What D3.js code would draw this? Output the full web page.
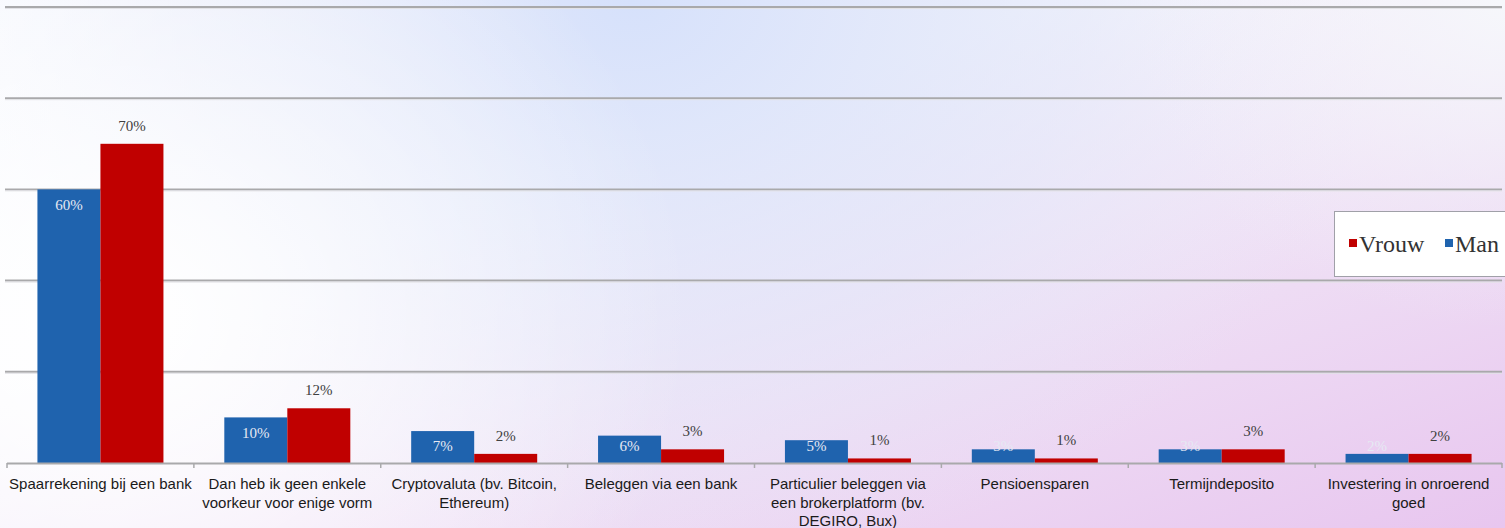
<!DOCTYPE html>
<html>
<head>
<meta charset="utf-8">
<script src="https://cdn.jsdelivr.net/npm/d3@7"></script>
<style>
  html, body { margin: 0; padding: 0; overflow: hidden; }
  svg { display: block; }
</style>
</head>
<body>
<script>
// ---- data ----
const categories = [
  "Spaarrekening bij een bank",
  "Dan heb ik geen enkele\nvoorkeur voor enige vorm",
  "Cryptovaluta (bv. Bitcoin,\nEthereum)",
  "Beleggen via een bank",
  "Particulier beleggen via\neen brokerplatform (bv.\nDEGIRO, Bux)",
  "Pensioensparen",
  "Termijndeposito",
  "Investering in onroerend\ngoed"
];
const seriesNames = ["Man", "Vrouw"];
const manValues   = [60, 10, 7, 6, 5, 3, 3, 2];
const vrouwValues = [70, 12, 2, 3, 1, 1, 3, 2];
const gridTicks = [20, 40, 60, 80, 100];
const legendItems = ["Vrouw", "Man"];

const colors = { Man: "#1f63ae", Vrouw: "#c00000" };

const W = 1505, H = 528;
const svg = d3.select("body").append("svg").attr("width", W).attr("height", H);
const defs = svg.append("defs");

// background gradients
const lg = defs.append("linearGradient").attr("id", "bgLin")
  .attr("x1", "0").attr("y1", "0").attr("x2", "1").attr("y2", "1");
lg.append("stop").attr("offset", "0").attr("stop-color", "#fbfdff");
lg.append("stop").attr("offset", "0.35").attr("stop-color", "#f9fbfe");
lg.append("stop").attr("offset", "0.7").attr("stop-color", "#eedcf4");
lg.append("stop").attr("offset", "1").attr("stop-color", "#e8c6ef");

const rb = defs.append("radialGradient").attr("id", "bgBlue")
  .attr("cx", "0.42").attr("cy", "0").attr("r", "0.5")
  .attr("gradientTransform", "translate(0.42,0) scale(1,2.2) translate(-0.42,0)");
rb.append("stop").attr("offset", "0").attr("stop-color", "#d6e1fb").attr("stop-opacity", 1);
rb.append("stop").attr("offset", "0.6").attr("stop-color", "#dfe3f8").attr("stop-opacity", 0.55);
rb.append("stop").attr("offset", "1").attr("stop-color", "#e6e6f8").attr("stop-opacity", 0);

const rw = defs.append("radialGradient").attr("id", "bgWhite")
  .attr("cx", "0.08").attr("cy", "0.6").attr("r", "0.38")
  .attr("gradientTransform", "translate(0.08,0.6) scale(1,2.5) translate(-0.08,-0.6)");
rw.append("stop").attr("offset", "0").attr("stop-color", "#ffffff").attr("stop-opacity", 1);
rw.append("stop").attr("offset", "1").attr("stop-color", "#ffffff").attr("stop-opacity", 0);

const rtr = defs.append("radialGradient").attr("id", "bgTR")
  .attr("cx", "1").attr("cy", "0").attr("r", "0.25")
  .attr("gradientTransform", "translate(1,0) scale(1,2.5) translate(-1,0)");
rtr.append("stop").attr("offset", "0").attr("stop-color", "#f6f7fb").attr("stop-opacity", 1);
rtr.append("stop").attr("offset", "1").attr("stop-color", "#f0eef8").attr("stop-opacity", 0);

svg.append("rect").attr("width", W).attr("height", H).attr("fill", "url(#bgLin)");
svg.append("rect").attr("width", W).attr("height", H).attr("fill", "url(#bgBlue)");
svg.append("rect").attr("width", W).attr("height", H).attr("fill", "url(#bgWhite)");
svg.append("rect").attr("width", W).attr("height", H).attr("fill", "url(#bgTR)");

// scales
const plotLeft = 7, plotRight = 1502, baseY = 463, topY = 7;
const x0 = d3.scaleBand().domain(categories).range([plotLeft, plotRight]).padding(0);
const x1 = d3.scaleBand().domain(seriesNames).range([0, x0.bandwidth()])
  .paddingInner(0).paddingOuter(0.483);
const y = d3.scaleLinear().domain([0, 100]).range([baseY, topY]);

// gridlines
const grid = svg.append("g");
grid.selectAll("line.g1").data(gridTicks).join("line")
  .attr("x1", plotLeft - 2).attr("x2", plotRight)
  .attr("y1", d => y(d)).attr("y2", d => y(d))
  .attr("stroke", "#a9a9ab").attr("stroke-width", 2);
grid.selectAll("line.g2").data(gridTicks).join("line")
  .attr("x1", plotLeft - 2).attr("x2", plotRight)
  .attr("y1", d => y(d) + 1.5).attr("y2", d => y(d) + 1.5)
  .attr("stroke", "#e2e2e6").attr("stroke-width", 1);

// bars
const data = categories.map((c, i) => ({ cat: c, Man: manValues[i], Vrouw: vrouwValues[i] }));
const groups = svg.append("g").selectAll("g").data(data).join("g")
  .attr("transform", d => `translate(${x0(d.cat)},0)`);

groups.selectAll("rect").data(d => seriesNames.map(s => ({ s, v: d[s] }))).join("rect")
  .attr("x", d => x1(d.s))
  .attr("width", x1.bandwidth())
  .attr("y", d => y(d.v))
  .attr("height", d => baseY - y(d.v))
  .attr("fill", d => colors[d.s]);

// axis baseline
const axisG = svg.append("g");
axisG.append("line").attr("x1", plotLeft).attr("x2", plotRight)
  .attr("y1", baseY + 0.5).attr("y2", baseY + 0.5)
  .attr("stroke", "#a9a9ab").attr("stroke-width", 2);
const tickXs = categories.map(c => x0(c)).concat([plotRight]);
axisG.selectAll("line.tick").data(tickXs).join("line")
  .attr("x1", d => d).attr("x2", d => d)
  .attr("y1", baseY).attr("y2", baseY + 5)
  .attr("stroke", "#a9a9ab").attr("stroke-width", 1.5);

// value labels
groups.append("text")
  .attr("x", x1("Man") + x1.bandwidth() / 2)
  .attr("y", d => Math.min(y(d.Man) + 21, 451))
  .attr("text-anchor", "middle")
  .attr("font-family", "Liberation Serif, Times New Roman, serif")
  .attr("font-size", 15)
  .attr("fill", "#e6e9f3")
  .text(d => d.Man + "%");

groups.append("text")
  .attr("x", x1("Vrouw") + x1.bandwidth() / 2)
  .attr("y", d => y(d.Vrouw) - 13)
  .attr("text-anchor", "middle")
  .attr("font-family", "Liberation Serif, Times New Roman, serif")
  .attr("font-size", 15)
  .attr("fill", "#404040")
  .text(d => d.Vrouw + "%");

// category labels
const catG = svg.append("g");
categories.forEach(c => {
  const t = catG.append("text")
    .attr("x", x0(c) + x0.bandwidth() / 2)
    .attr("y", 489)
    .attr("text-anchor", "middle")
    .attr("font-family", "Liberation Sans, Arial, sans-serif")
    .attr("font-size", 15)
    .attr("fill", "#1a1a1a");
  c.split("\n").forEach((line, i) => {
    t.append("tspan").attr("x", x0(c) + x0.bandwidth() / 2)
      .attr("dy", i === 0 ? 0 : 18.5).text(line);
  });
});

// legend
const leg = svg.append("g");
leg.append("rect").attr("x", 1334.5).attr("y", 211.5).attr("width", 190).attr("height", 65)
  .attr("fill", "#ffffff").attr("stroke", "#a0a0a8").attr("stroke-width", 1);
const legX = [1349, 1445];
legendItems.forEach((s, i) => {
  leg.append("rect").attr("x", legX[i]).attr("y", 239).attr("width", 8).attr("height", 8)
    .attr("fill", colors[s]);
  leg.append("text").attr("x", legX[i] + 10).attr("y", 252)
    .attr("font-family", "Liberation Serif, Times New Roman, serif")
    .attr("font-size", 24)
    .attr("fill", "#333")
    .text(s);
});
</script>
</body>
</html>
